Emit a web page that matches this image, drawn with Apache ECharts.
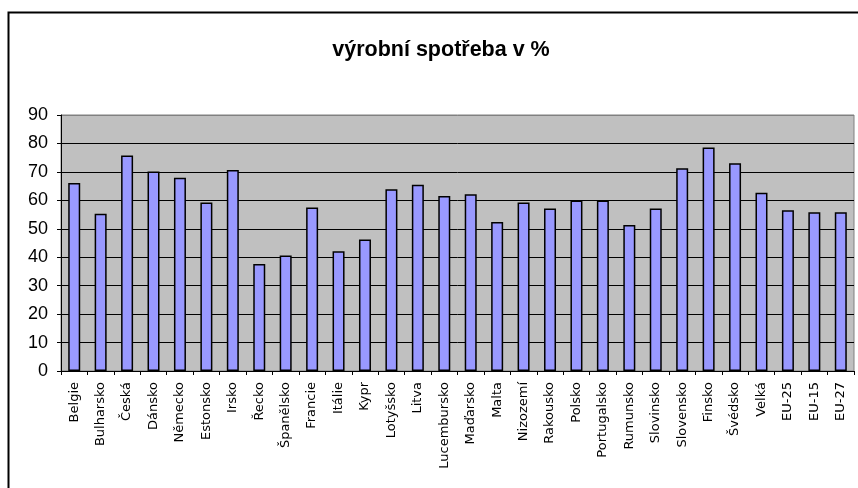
<!DOCTYPE html>
<html>
<head>
<meta charset="utf-8">
<script src="https://cdn.jsdelivr.net/npm/echarts@6/dist/echarts.min.js"></script>
<style>
html,body{margin:0;padding:0;background:#fff;}
#c{width:858px;height:488px;}
</style>
</head>
<body>
<div id="c"></div>
<script>
var categories = ["Belgie","Bulharsko","Česká","Dánsko","Německo","Estonsko","Irsko","Řecko","Španělsko","Francie","Itálie","Kypr","Lotyšsko","Litva","Lucembursko","Maďarsko","Malta","Nizozemí","Rakousko","Polsko","Portugalsko","Rumunsko","Slovinsko","Slovensko","Finsko","Švédsko","Velká","EU-25","EU-15","EU-27"];
var values = [66.1,55.3,75.8,70.1,67.9,59.2,70.7,37.6,40.6,57.5,42.1,46.2,63.9,65.5,61.5,62.1,52.4,59.2,57.1,59.9,59.9,51.3,57.1,71.3,78.6,73.0,62.7,56.5,55.8,55.8];
var yTicks = [0,10,20,30,40,50,60,70,80,90];
var titleText = "výrobní spotřeba v %";

var chart = echarts.init(document.getElementById('c'), null, {renderer:'canvas'});
var gridColors = yTicks.map(function(v,i){ return i === yTicks.length-1 ? '#808080' : '#000000'; });
chart.setOption({
  animation:false,
  backgroundColor:'#ffffff',
  title:{
    text:titleText,
    left:436, top:34, textAlign:'center',
    textStyle:{fontFamily:'Liberation Sans, Arial, sans-serif', fontSize:21.5, fontWeight:'bold', color:'#000'}
  },
  graphic:[{
    type:'rect', silent:true, z:-1,
    shape:{x:8.5, y:12.5, width:900, height:600},
    style:{fill:null, stroke:'#000', lineWidth:2}
  }],
  grid:{
    left:61, right:4, top:115, bottom:117, containLabel:false,
    show:true, backgroundColor:'#C0C0C0', borderColor:'#808080', borderWidth:1
  },
  xAxis:{
    type:'category', data:categories,
    axisLine:{show:true, lineStyle:{color:'#000', width:1}},
    axisTick:{show:true, alignWithLabel:false, length:4, lineStyle:{color:'#000'}},
    axisLabel:{rotate:90, interval:0, margin:11, fontFamily:'DejaVu Sans, sans-serif', fontSize:13, color:'#000'},
    splitLine:{show:false}
  },
  yAxis:{
    type:'value', min:0, max:90, interval:10,
    axisLine:{show:true, lineStyle:{color:'#000', width:1}},
    axisTick:{show:true, length:4, lineStyle:{color:'#000'}},
    axisLabel:{margin:13, fontFamily:'Liberation Sans, Arial, sans-serif', fontSize:18, color:'#000'},
    splitLine:{show:true, lineStyle:{color:gridColors, width:1}}
  },
  series:[{
    type:'bar', data:values, barWidth:12,
    itemStyle:{color:'#9999FF', borderColor:'#000', borderWidth:1.5}
  }]
});
</script>
</body>
</html>
